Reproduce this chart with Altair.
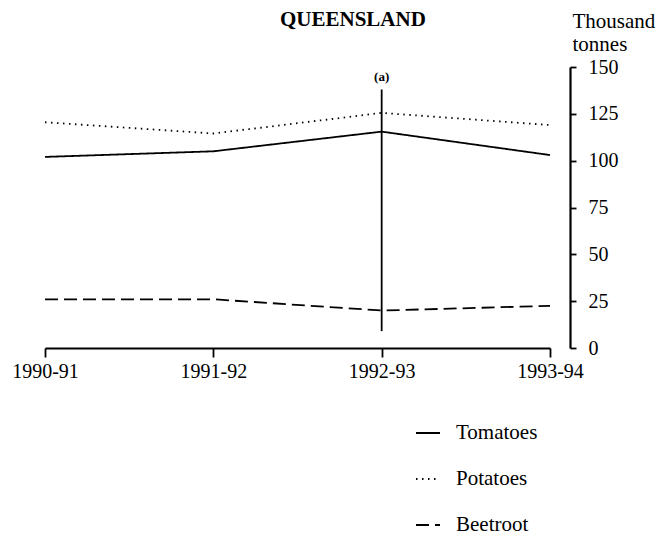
import altair as alt
import pandas as pd

years = ["1990-91", "1991-92", "1992-93", "1993-94"]
series = ["Tomatoes", "Potatoes", "Beetroot"]
tomatoes = [102, 105, 115.5, 103]
potatoes = [120.5, 114.5, 125.5, 119]
beetroot = [26, 26, 20, 22.5]
y_ticks = [0, 25, 50, 75, 100, 125, 150]
note_year = "1992-93"
note_low = 9
note_high = 138
note_label = "(a)"

rows = []
for name, vals in zip(series, [tomatoes, potatoes, beetroot]):
    for yr, v in zip(years, vals):
        rows.append({"year": yr, "series": name, "value": v})
df = pd.DataFrame(rows)

rule_df = pd.DataFrame({"year": [note_year], "value": [note_low], "high": [note_high]})
text_df = pd.DataFrame({"year": [note_year], "value": [note_high], "label": [note_label]})

FONT = "'Liberation Serif', 'DejaVu Serif', 'Times New Roman', serif"

x_enc = alt.X(
    "year:O",
    sort=years,
    scale=alt.Scale(type="point", domain=years, padding=0),
    axis=alt.Axis(
        title=None, labelAngle=0, labelFont=FONT, labelFontSize=20,
        labelColor="black", domainColor="black", domainWidth=1.8,
        tickColor="black", tickWidth=1.8, tickSize=9, labelPadding=4,
        grid=False,
    ),
)
y_enc = alt.Y(
    "value:Q",
    scale=alt.Scale(domain=[0, 150], nice=False),
    axis=alt.Axis(
        orient="right", offset=20, values=y_ticks, grid=False,
        tickSize=6, tickColor="black", tickWidth=1.8,
        domainColor="black", domainWidth=2.2,
        labelFont=FONT, labelFontSize=20, labelColor="black", labelPadding=12,
        title=["Thousand", "tonnes"], titleAngle=0, titleAlign="left",
        titleBaseline="alphabetic", titleX=2, titleY=-40,
        titleFont=FONT, titleFontSize=21, titleFontWeight="normal",
        titleColor="black", titleLineHeight=23,
    ),
)

lines = alt.Chart(df).mark_line(color="black", strokeWidth=1.8).encode(
    x=x_enc,
    y=y_enc,
    strokeDash=alt.StrokeDash(
        "series:N",
        sort=series,
        scale=alt.Scale(domain=series, range=[[1, 0], [1.5, 4.5], [13, 6]]),
        legend=alt.Legend(
            title=None, orient="none", legendX=370, legendY=353,
            direction="vertical", symbolType="stroke", symbolSize=576,
            symbolStrokeWidth=1.8, symbolStrokeColor="black",
            labelFont=FONT, labelFontSize=21, labelColor="black",
            rowPadding=23, labelOffset=15,
        ),
    ),
)

rule = alt.Chart(rule_df).mark_rule(color="black", strokeWidth=1.8).encode(
    x=x_enc, y=y_enc, y2="high:Q"
)

note = alt.Chart(text_df).mark_text(
    font=FONT, fontSize=13, fontWeight="bold", baseline="bottom", dy=-5, color="black"
).encode(x=x_enc, y=y_enc, text="label:N")

chart = alt.layer(lines, rule, note).properties(
    width=505,
    height=281,
    padding={"left": 37, "top": 59, "right": 112, "bottom": 190},
    autosize=alt.AutoSizeParams(type="none"),
    background="white",
    title=alt.TitleParams(
        "QUEENSLAND", font=FONT, fontSize=21, fontWeight="bold",
        anchor="start", frame="group", dx=235, color="black", offset=0, dy=20,
    ),
).configure_view(stroke=None)

chart.save("out.html", embed_options={"renderer": "svg", "actions": False})
